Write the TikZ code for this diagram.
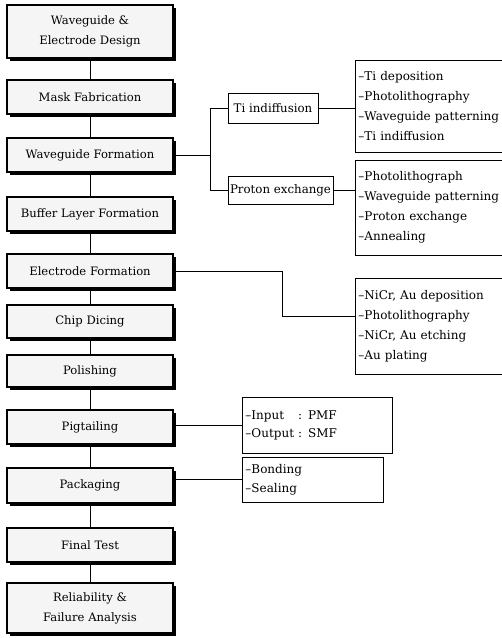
\documentclass[tikz,border=0pt]{standalone}
\usepackage{fontspec}
\setmainfont{DejaVu Serif}
\usetikzlibrary{shadows}
\begin{document}
\begin{tikzpicture}[x=1pt,y=-1pt,
  stage/.style={draw,line width=1.1pt,fill=gray!8,minimum width=166pt,inner sep=0pt,align=center,
    font=\fontsize{11.6}{20}\selectfont,
    drop shadow={shadow xshift=3pt,shadow yshift=-3pt,fill=black,opacity=1}},
  method/.style={draw,line width=0.9pt,inner sep=0pt,font=\fontsize{11.8}{20}\selectfont},
  listbox/.style={draw,line width=0.9pt,anchor=west,inner xsep=3pt,inner ysep=0pt,align=left,
    font=\fontsize{12}{20}\selectfont},
  link/.style={line width=0.8pt}]
\clip (0,0) rectangle (502,638);
\fill[white] (0,0) rectangle (502,638);
% main column
\node[stage,minimum height=53pt] (s1) at (90,31.5) {Waveguide \&\\Electrode Design};
\node[stage,minimum height=34pt] (s2) at (90,97) {Mask Fabrication};
\node[stage,minimum height=34pt] (s3) at (90,155) {Waveguide Formation};
\node[stage,minimum height=34pt] (s4) at (90,214) {Buffer Layer Formation};
\node[stage,minimum height=34pt] (s5) at (90,271) {Electrode Formation};
\node[stage,minimum height=33pt] (s6) at (90,321.5) {Chip Dicing};
\node[stage,minimum height=32pt] (s7) at (90,371) {Polishing};
\node[stage,minimum height=34pt] (s8) at (90,427) {Pigtailing};
\node[stage,minimum height=35pt] (s9) at (90,485.5) {Packaging};
\node[stage,minimum height=34pt] (s10) at (90,545) {Final Test};
\node[stage,minimum height=50pt] (s11) at (90,608) {Reliability \&\\Failure Analysis};
\foreach \a/\b in {s1/s2,s2/s3,s3/s4,s4/s5,s5/s6,s6/s7,s7/s8,s8/s9,s9/s10,s10/s11}
  \draw[link] (\a.south) -- (\b.north);
% waveguide methods
\node[method,minimum width=90pt,minimum height=30pt] (ti) at (273,108) {Ti indiffusion};
\node[method,minimum width=105pt,minimum height=28pt] (pe) at (280.5,190.5) {Proton exchange};
\coordinate (wj) at (210,155);
\draw[link] (s3.east) -- (wj);
\draw[link] (ti.west) -| (wj);
\draw[link] (pe.west) -| (wj);
\node[listbox,text width=169pt,minimum height=92pt] (til) at (355,106)
  {–Ti deposition\\–Photolithography\\–Waveguide patterning\\–Ti indiffusion};
\node[listbox,text width=169pt,minimum height=95pt] (pel) at (355,207.5)
  {–Photolithograph\\–Waveguide patterning\\–Proton exchange\\–Annealing};
\draw[link] (ti.east) -- (ti.east -| til.west);
\draw[link] (pe.east) -- (pe.east -| pel.west);
% electrode
\node[listbox,text width=169pt,minimum height=96pt] (el) at (355,326)
  {–NiCr, Au deposition\\–Photolithography\\–NiCr, Au etching\\–Au plating};
\coordinate (ej) at (282,316);
\draw[link] (s5.east) -| (ej) -- (ej -| el.west);
% pigtailing
\node[listbox,text width=144pt,minimum height=56pt,font=\fontsize{12}{18}\selectfont] (pl) at (242,425)
  {\begin{tabular}{@{}l@{ }l@{}}–Input & : PMF\\–Output & : SMF\end{tabular}};
\draw[link] (pl.west -| s8.east) -- (pl.west);
% packaging
\node[listbox,text width=135pt,minimum height=45pt,font=\fontsize{12}{19}\selectfont] (kl) at (242,479.5)
  {–Bonding\\–Sealing};
\draw[link] (kl.west -| s9.east) -- (kl.west);
\end{tikzpicture}
\end{document}
